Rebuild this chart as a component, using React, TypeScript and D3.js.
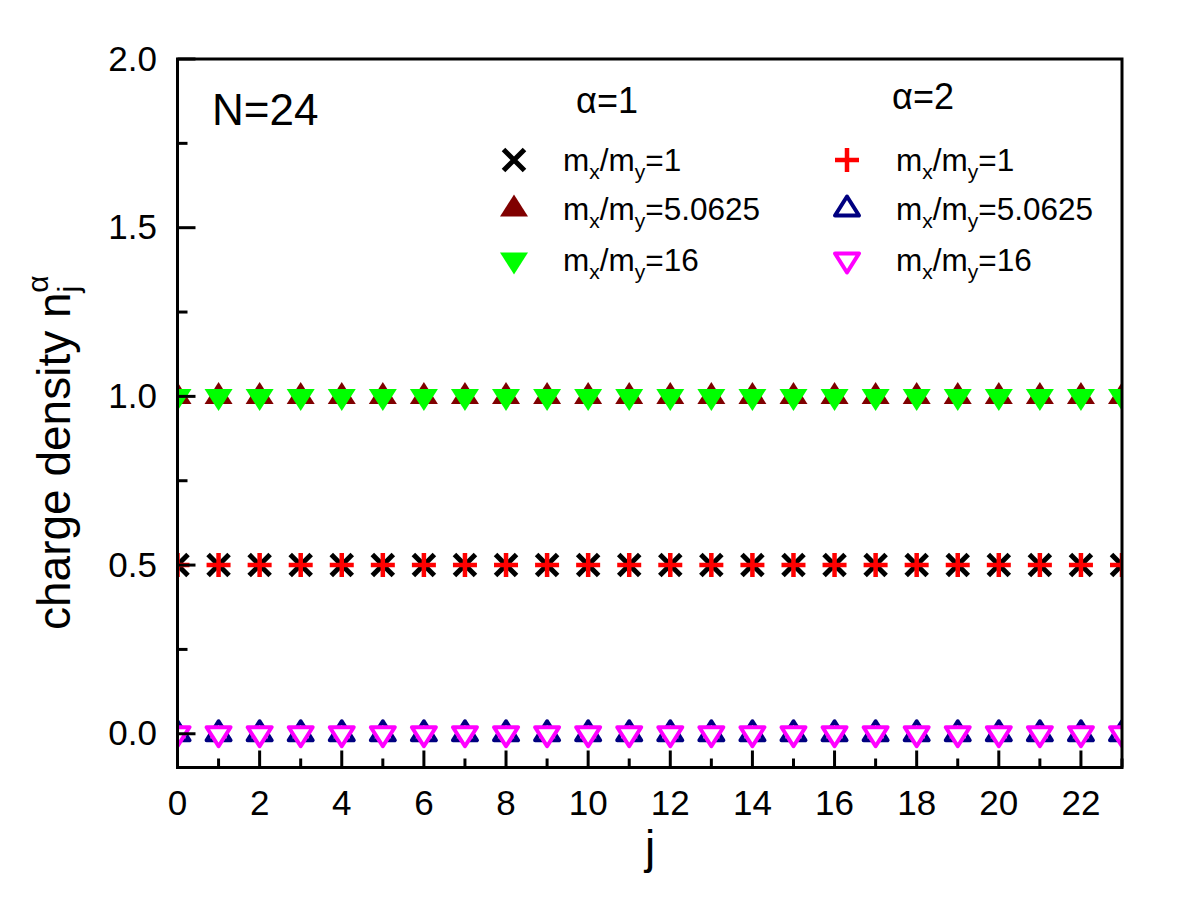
import React from "react";
import * as d3 from "d3";

// site index j along the chain
const sites = [0, 1, 2, 3, 4, 5, 6, 7, 8, 9, 10, 11, 12, 13, 14, 15, 16, 17, 18, 19, 20, 21, 22, 23];

// charge density per site, alpha = 1
const a1Ratio1 = [0.5, 0.5, 0.5, 0.5, 0.5, 0.5, 0.5, 0.5, 0.5, 0.5, 0.5, 0.5, 0.5, 0.5, 0.5, 0.5, 0.5, 0.5, 0.5, 0.5, 0.5, 0.5, 0.5, 0.5];
const a1Ratio5 = [1.0, 1.0, 1.0, 1.0, 1.0, 1.0, 1.0, 1.0, 1.0, 1.0, 1.0, 1.0, 1.0, 1.0, 1.0, 1.0, 1.0, 1.0, 1.0, 1.0, 1.0, 1.0, 1.0, 1.0];
const a1Ratio16 = [1.0, 1.0, 1.0, 1.0, 1.0, 1.0, 1.0, 1.0, 1.0, 1.0, 1.0, 1.0, 1.0, 1.0, 1.0, 1.0, 1.0, 1.0, 1.0, 1.0, 1.0, 1.0, 1.0, 1.0];

// charge density per site, alpha = 2
const a2Ratio1 = [0.5, 0.5, 0.5, 0.5, 0.5, 0.5, 0.5, 0.5, 0.5, 0.5, 0.5, 0.5, 0.5, 0.5, 0.5, 0.5, 0.5, 0.5, 0.5, 0.5, 0.5, 0.5, 0.5, 0.5];
const a2Ratio5 = [0.0, 0.0, 0.0, 0.0, 0.0, 0.0, 0.0, 0.0, 0.0, 0.0, 0.0, 0.0, 0.0, 0.0, 0.0, 0.0, 0.0, 0.0, 0.0, 0.0, 0.0, 0.0, 0.0, 0.0];
const a2Ratio16 = [0.0, 0.0, 0.0, 0.0, 0.0, 0.0, 0.0, 0.0, 0.0, 0.0, 0.0, 0.0, 0.0, 0.0, 0.0, 0.0, 0.0, 0.0, 0.0, 0.0, 0.0, 0.0, 0.0, 0.0];

const massRatios = ["1", "5.0625", "16"];

const yMajorTicks = [0.0, 0.5, 1.0, 1.5, 2.0];
const yMinorTicks = [0.25, 0.75, 1.25, 1.75];
const xMajorTicks = [0, 2, 4, 6, 8, 10, 12, 14, 16, 18, 20, 22];
const xMinorTicks = [1, 3, 5, 7, 9, 11, 13, 15, 17, 19, 21, 23];

type Kind = "cross" | "plus" | "triUp" | "triDown" | "triUpOpen" | "triDownOpen";

const series: { values: number[]; kind: Kind; color: string; ratio: string; col: number }[] = [
  { values: a1Ratio1, kind: "cross", color: "#000000", ratio: massRatios[0], col: 0 },
  { values: a1Ratio5, kind: "triUp", color: "#800000", ratio: massRatios[1], col: 0 },
  { values: a1Ratio16, kind: "triDown", color: "#00ff00", ratio: massRatios[2], col: 0 },
  { values: a2Ratio1, kind: "plus", color: "#ff0000", ratio: massRatios[0], col: 1 },
  { values: a2Ratio5, kind: "triUpOpen", color: "#000080", ratio: massRatios[1], col: 1 },
  { values: a2Ratio16, kind: "triDownOpen", color: "#ff00ff", ratio: massRatios[2], col: 1 },
];

const FONT = "'Liberation Sans', Arial, Helvetica, sans-serif";

function Marker({ kind, color, x, y }: { kind: Kind; color: string; x: number; y: number }) {
  const t = `translate(${x},${y})`;
  switch (kind) {
    case "cross":
      return <path transform={t} d="M-10.5,-10.5L10.5,10.5M-10.5,10.5L10.5,-10.5" stroke={color} strokeWidth={5} fill="none" />;
    case "plus":
      return <path transform={t} d="M-12,0H12M0,-12V12" stroke={color} strokeWidth={4.5} fill="none" />;
    case "triUp":
      return <path transform={t} d="M0,-14.5L14,7.5L-14,7.5Z" fill={color} />;
    case "triDown":
      return <path transform={t} d="M0,14.5L14,-7.5L-14,-7.5Z" fill={color} />;
    case "triUpOpen":
      return <path transform={t} d="M0,-12.5L12,6.5L-12,6.5Z" fill="#fff" stroke={color} strokeWidth={4} strokeLinejoin="round" />;
    case "triDownOpen":
      return <path transform={t} d="M0,12.5L12,-6.5L-12,-6.5Z" fill="#fff" stroke={color} strokeWidth={4} strokeLinejoin="round" />;
  }
}

export default function App() {
  const left = 177.5, right = 1122, top = 59, bottom = 767.5;

  const x = d3.scaleLinear().domain([0, 23]).range([left, right]);
  const y = d3.scaleLinear().domain([-0.1, 2.0]).range([bottom, top]);
  const fmt = d3.format(".1f");

  const legendX = [514, 847];
  const legendTextX = [563, 896];
  const legendRowY = [160, 209, 260];

  return (
    <svg width={1200} height={900} style={{ position: "absolute", left: 0, top: 0, background: "#fff" }} fontFamily={FONT}>
      <defs>
        <clipPath id="plot-clip">
          <rect x={left} y={top} width={right - left} height={bottom - top} />
        </clipPath>
      </defs>

      {/* data markers */}
      <g clipPath="url(#plot-clip)">
        {series.map((s, si) => (
          <g key={si}>
            {s.values.map((v, i) => (
              <Marker key={i} kind={s.kind} color={s.color} x={x(sites[i])} y={y(v)} />
            ))}
          </g>
        ))}
      </g>

      {/* inward ticks */}
      <g stroke="#000" strokeWidth={3}>
        {yMajorTicks.map((t) => (
          <line key={"ym" + t} x1={left} x2={left + 18} y1={y(t)} y2={y(t)} />
        ))}
        {yMinorTicks.map((t) => (
          <line key={"yn" + t} x1={left} x2={left + 10} y1={y(t)} y2={y(t)} />
        ))}
        {xMajorTicks.map((t) => (
          <line key={"xm" + t} x1={x(t)} x2={x(t)} y1={bottom} y2={bottom - 17} />
        ))}
        {xMinorTicks.map((t) => (
          <line key={"xn" + t} x1={x(t)} x2={x(t)} y1={bottom} y2={bottom - 9} />
        ))}
      </g>

      {/* frame */}
      <rect x={left} y={top} width={right - left} height={bottom - top} fill="none" stroke="#000" strokeWidth={3} />

      {/* tick labels */}
      <g fontSize={35} fill="#000">
        {yMajorTicks.map((t) => (
          <text key={"yl" + t} x={157} y={y(t)} dy="0.33em" textAnchor="end">
            {fmt(t)}
          </text>
        ))}
        {xMajorTicks.map((t) => (
          <text key={"xl" + t} x={x(t)} y={815} textAnchor="middle">
            {t}
          </text>
        ))}
      </g>

      {/* axis titles */}
      <text x={650} y={863} fontSize={46} textAnchor="middle">j</text>
      <text transform="translate(70,630) rotate(-90)" fontSize={46}>
        charge density n
        <tspan fontSize={30} dy={9}>j</tspan>
        <tspan fontSize={30} dx={-7} dy={-31}>α</tspan>
      </text>

      <text x={212} y={125} fontSize={44}>N=24</text>

      {/* legend */}
      <text x={607} y={113} fontSize={36} textAnchor="middle">α=1</text>
      <text x={923} y={109} fontSize={36} textAnchor="middle">α=2</text>
      {series.map((s, si) => {
        const row = si % 3;
        return (
          <g key={"lg" + si}>
            <Marker kind={s.kind} color={s.color} x={legendX[s.col]} y={legendRowY[row]} />
            <text x={legendTextX[s.col]} y={legendRowY[row] + 11} fontSize={31.5}>
              m
              <tspan fontSize={21} dy={8}>x</tspan>
              <tspan dy={-8}>/m</tspan>
              <tspan fontSize={21} dy={8}>y</tspan>
              <tspan dy={-8}>={s.ratio}</tspan>
            </text>
          </g>
        );
      })}
    </svg>
  );
}
